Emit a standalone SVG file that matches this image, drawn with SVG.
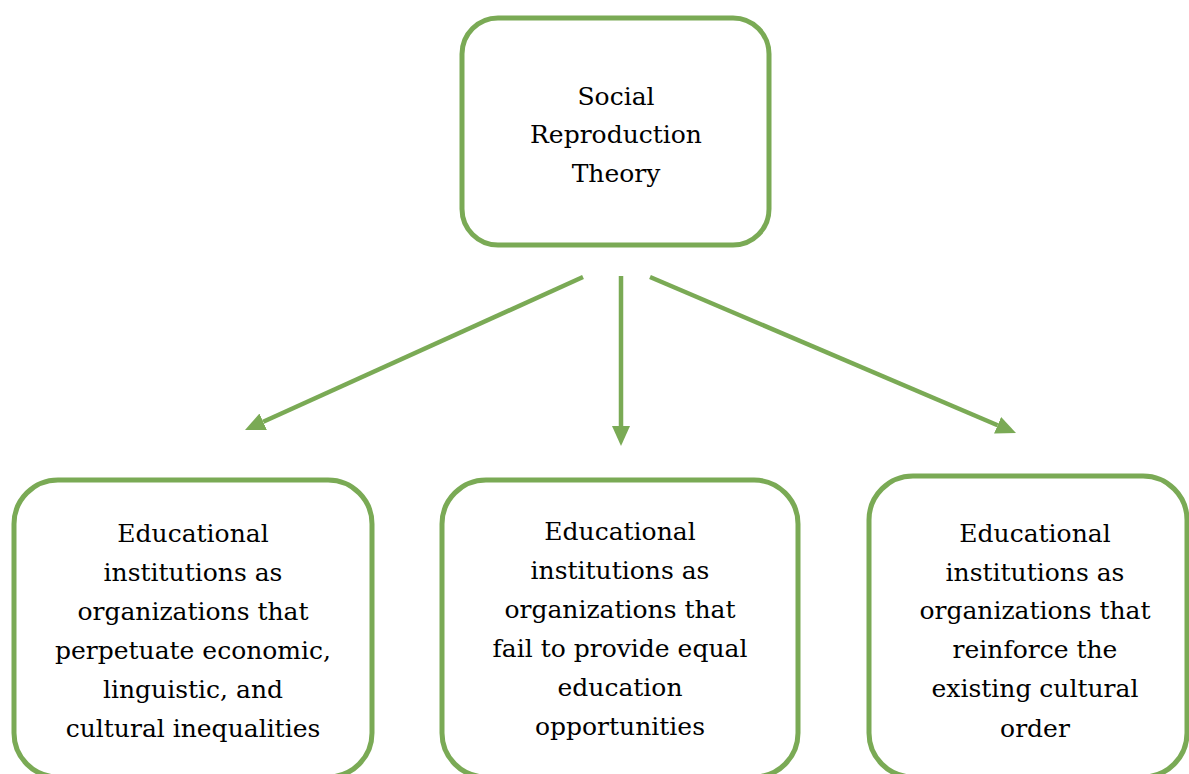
<svg xmlns="http://www.w3.org/2000/svg" width="1189" height="774" viewBox="0 0 1189 774">
  <style>
    .box { fill: #ffffff; stroke: #7aaa55; stroke-width: 5; }
    .link { stroke: #7aaa55; stroke-width: 4.5; fill: none; marker-end: url(#head); }
    .label { font-family: "DejaVu Serif", "Liberation Serif", serif; font-size: 25px; fill: #000000; text-anchor: middle; }
  </style>
  <defs>
    <marker id="head" markerUnits="userSpaceOnUse" markerWidth="22" markerHeight="20" viewBox="0 -10 22 20" refX="0" refY="0" orient="auto">
      <path d="M0,-9 L20,0 L0,9 z" fill="#7aaa55"/>
    </marker>
  </defs>
  <rect width="1189" height="774" fill="#ffffff"/>

  <!-- root concept -->
  <g id="node-theory">
    <rect class="box" x="462" y="18" width="307" height="227" rx="36" ry="36"/>
    <text class="label" x="616" y="105">Social</text>
    <text class="label" x="616" y="143">Reproduction</text>
    <text class="label" x="616" y="182">Theory</text>
  </g>

  <!-- connectors from the root to each consequence -->
  <g id="connectors">
    <line class="link" x1="583" y1="277" x2="263.2" y2="421.8"/>
    <line class="link" x1="621" y1="276" x2="621" y2="426"/>
    <line class="link" x1="650" y1="277" x2="997.6" y2="425.2"/>
  </g>

  <g id="node-inequalities">
    <rect class="box" x="14" y="480" width="358" height="297" rx="44" ry="44"/>
    <text class="label" x="193" y="542">Educational</text>
    <text class="label" x="193" y="581">institutions as</text>
    <text class="label" x="193" y="620">organizations that</text>
    <text class="label" x="193" y="659">perpetuate economic,</text>
    <text class="label" x="193" y="698">linguistic, and</text>
    <text class="label" x="193" y="737">cultural inequalities</text>
  </g>

  <g id="node-opportunities">
    <rect class="box" x="442" y="480" width="356" height="297" rx="44" ry="44"/>
    <text class="label" x="620" y="540">Educational</text>
    <text class="label" x="620" y="579">institutions as</text>
    <text class="label" x="620" y="618">organizations that</text>
    <text class="label" x="620" y="657">fail to provide equal</text>
    <text class="label" x="620" y="696">education</text>
    <text class="label" x="620" y="735">opportunities</text>
  </g>

  <g id="node-cultural-order">
    <rect class="box" x="869" y="476" width="318" height="301" rx="44" ry="44"/>
    <text class="label" x="1035" y="542">Educational</text>
    <text class="label" x="1035" y="581">institutions as</text>
    <text class="label" x="1035" y="619">organizations that</text>
    <text class="label" x="1035" y="658">reinforce the</text>
    <text class="label" x="1035" y="697">existing cultural</text>
    <text class="label" x="1035" y="737">order</text>
  </g>
</svg>
